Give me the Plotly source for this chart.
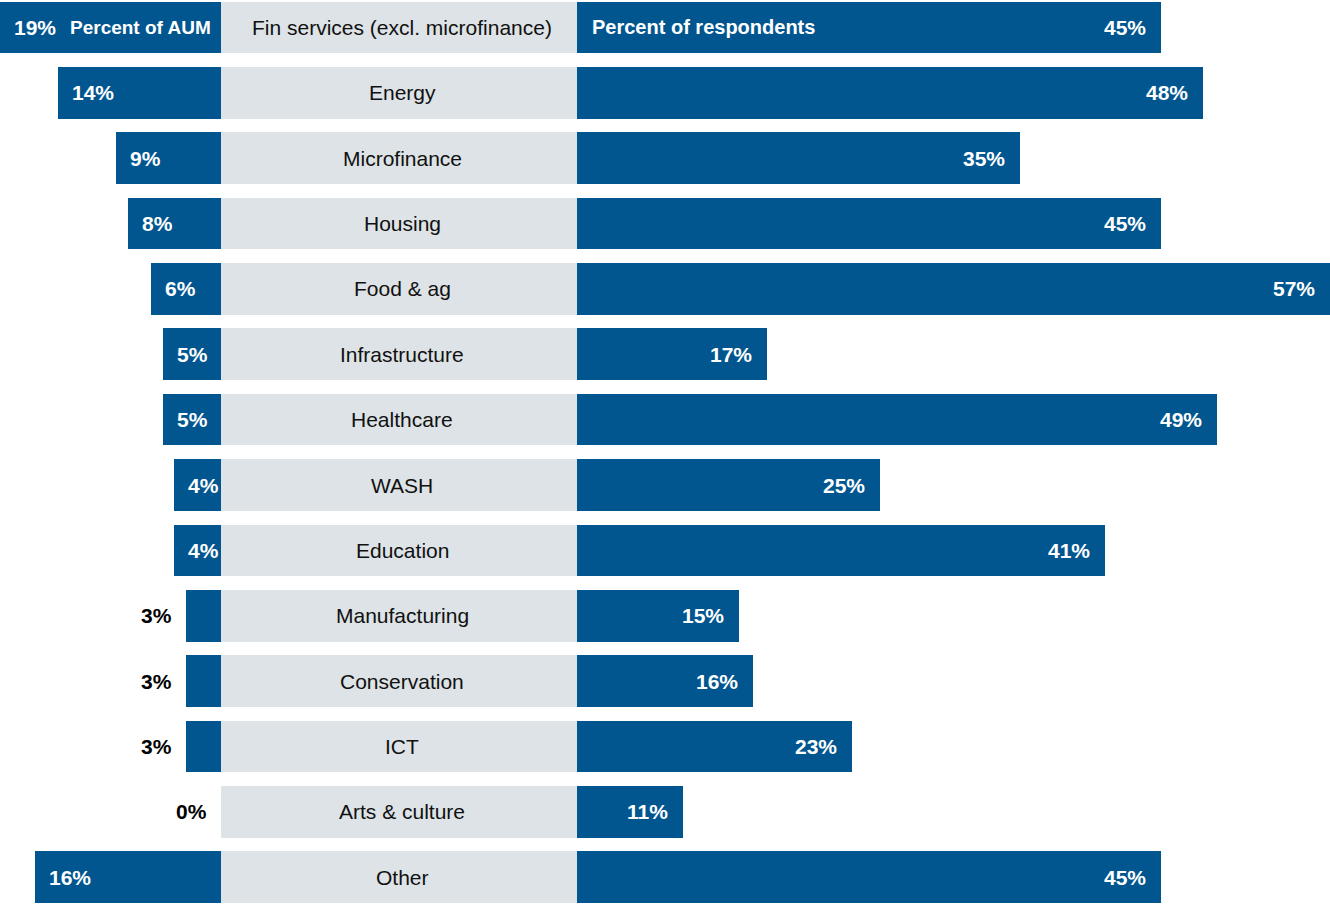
import plotly.graph_objects as go

categories = ["Fin services (excl. microfinance)", "Energy", "Microfinance", "Housing",
              "Food & ag", "Infrastructure", "Healthcare", "WASH", "Education",
              "Manufacturing", "Conservation", "ICT", "Arts & culture", "Other"]
aum_pct = [19, 14, 9, 8, 6, 5, 5, 4, 4, 3, 3, 3, 0, 16]
respondents_pct = [45, 48, 35, 45, 57, 17, 49, 25, 41, 15, 16, 23, 11, 45]
header_left = "Percent of AUM"
header_right = "Percent of respondents"

W, H = 1330, 904
BLUE = "#01568f"
GRAY = "#dde3e6"
FONT = "Liberation Sans, Arial, sans-serif"
BAR_W = 0.79

fig = go.Figure()
fig.add_trace(go.Bar(y=categories, x=aum_pct, orientation="h", xaxis="x", yaxis="y",
                     marker=dict(color=BLUE, line=dict(width=0)), width=BAR_W,
                     hoverinfo="skip", showlegend=False))
fig.add_trace(go.Bar(y=categories, x=[1] * len(categories), orientation="h", xaxis="x2", yaxis="y",
                     marker=dict(color=GRAY, line=dict(width=0)), width=BAR_W,
                     hoverinfo="skip", showlegend=False))
fig.add_trace(go.Bar(y=categories, x=respondents_pct, orientation="h", xaxis="x3", yaxis="y",
                     marker=dict(color=BLUE, line=dict(width=0)), width=BAR_W,
                     hoverinfo="skip", showlegend=False))

VAL_FONT = dict(family=FONT, size=21, color="white", weight="bold")
HEAD_FONT = dict(family=FONT, size=19, color="white", weight="bold")
ann = []
for c, v in zip(categories, aum_pct):
    if v >= 4:
        ann.append(dict(x=v, y=c, xref="x", yref="y", text=f"{v}%", showarrow=False,
                        xanchor="left", xshift=12, font=VAL_FONT))
    else:
        ann.append(dict(x=v, y=c, xref="x", yref="y", text=f"{v}%", showarrow=False,
                        xanchor="right", xshift=-12, font=dict(VAL_FONT, color="black")))
for c in categories:
    ann.append(dict(x=0.5, y=c, xref="x2", yref="y", text=c, showarrow=False,
                    xanchor="center", xshift=3, font=dict(family=FONT, size=21, color="#111111")))
for c, v in zip(categories, respondents_pct):
    ann.append(dict(x=v, y=c, xref="x3", yref="y", text=f"{v}%", showarrow=False,
                    xanchor="right", xshift=-13, font=VAL_FONT))
ann.append(dict(x=213 / W, y=categories[0], xref="paper", yref="y", text=header_left, showarrow=False,
                xanchor="right", font=HEAD_FONT))
ann.append(dict(x=590 / W, y=categories[0], xref="paper", yref="y", text=header_right, showarrow=False,
                xanchor="left", font=dict(HEAD_FONT, size=20)))

n = len(categories)
fig.update_layout(
    width=W, height=H, margin=dict(l=0, r=0, t=0, b=0),
    paper_bgcolor="white", plot_bgcolor="white",
    bargap=0, showlegend=False,
    xaxis=dict(domain=[0, 221 / W], range=[19, 0], visible=False, fixedrange=True),
    xaxis2=dict(domain=[221 / W, 577 / W], range=[0, 1], visible=False, fixedrange=True),
    xaxis3=dict(domain=[577 / W, 1], range=[3.48, 57], visible=False, fixedrange=True),
    yaxis=dict(type="category", categoryorder="array", categoryarray=categories,
               range=[n - 1 + 0.41, -0.42], visible=False, fixedrange=True),
    annotations=ann,
)

fig.write_html("out.html", config={"displayModeBar": False},
               post_script="document.body.style.margin='0';")
